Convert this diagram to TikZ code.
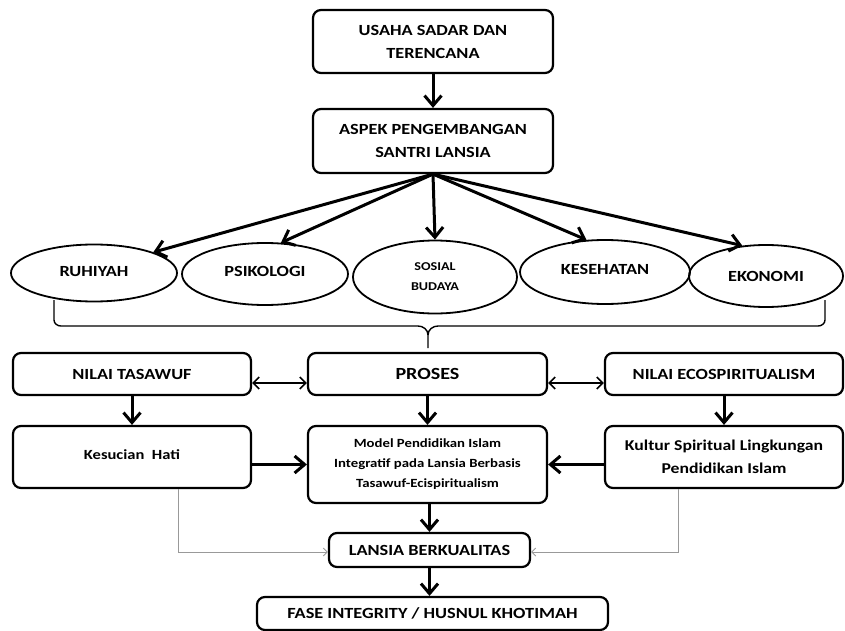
\documentclass[tikz,border=0pt]{standalone}
\usepackage{fontspec}
\setmainfont{Carlito}[FakeStretch=1.18]
\usetikzlibrary{arrows.meta,shapes.geometric}
\begin{document}
\begin{tikzpicture}[x=1pt,y=-1pt,
  hfont/.style={font=\bfseries\fontsize{15.5}{23}\selectfont},
  box/.style={draw,line width=2.2pt,rounded corners=8pt,align=center,inner sep=0pt,hfont},
  ell/.style={draw,ellipse,line width=1.8pt,inner sep=0pt,align=center,hfont},
  arr/.style={line width=3pt,-{Straight Barb[length=10pt,width=17pt,line width=3pt]}},
  darr/.style={line width=1.6pt,{Straight Barb[length=6pt,width=12pt,line width=1.6pt]}-{Straight Barb[length=6pt,width=12pt,line width=1.6pt]}},
  garr/.style={line width=0.9pt,draw=gray!80,-{Straight Barb[length=4pt,width=8pt,line width=0.9pt]}},
  brace/.style={line width=1.4pt}
]
\useasboundingbox (0,0) rectangle (845,631);

\node[box,minimum width=240pt,minimum height=63pt] (us) at (433,41.5) {USAHA SADAR DAN\\TERENCANA};
\node[box,minimum width=240pt,minimum height=64pt] (as) at (433,141) {ASPEK PENGEMBANGAN\\SANTRI LANSIA};

\node[ell,minimum width=166pt,minimum height=57pt] (ru) at (94,273) {\raisebox{4pt}{RUHIYAH}};
\node[ell,minimum width=166pt,minimum height=62pt] (ps) at (265,274) {\raisebox{6pt}{PSIKOLOGI}};
\node[ell,minimum width=164pt,minimum height=73pt,font=\bfseries\fontsize{12}{20}\selectfont] (ss) at (435,277) {SOSIAL\\BUDAYA};
\node[ell,minimum width=170pt,minimum height=64pt] (ke) at (605,272) {\raisebox{5pt}{KESEHATAN}};
\node[ell,minimum width=154pt,minimum height=62pt] (ek) at (766,276) {EKONOMI};

\draw[arr] (as.south) -- (ru.north east);
\draw[arr] (as.south) -- (ps.63);
\draw[arr] (as.south) -- (ss.north);
\draw[arr] (as.south) -- (ke.120);
\draw[arr] (as.south) -- (ek.128);
\draw[arr] (us.south) -- (as.north);

% brace
\draw[brace] (54,300) -- (54,320) to[out=-90,in=180] (61,326) -- (418,326) to[out=0,in=90] (428,335) -- (428,348);
\draw[brace] (428,335) to[out=90,in=180] (438,326) -- (818,326) to[out=0,in=-90] (825,320) -- (825,300);

\node[box,minimum width=238pt,minimum height=42pt] (nt) at (132,374) {NILAI TASAWUF};
\node[box,minimum width=239pt,minimum height=42pt,font=\bfseries\fontsize{17}{20}\selectfont] (pr) at (427.5,374) {PROSES};
\node[box,minimum width=238pt,minimum height=42pt] (ne) at (724,374) {NILAI ECOSPIRITUALISM};

\node[box,minimum width=238pt,minimum height=62pt,font=\bfseries\fontsize{14}{22}\selectfont] (ks) at (132,457) {\raisebox{5pt}{Kesucian\ \ Hati}};
\node[box,minimum width=239pt,minimum height=77pt,font=\bfseries\fontsize{12.5}{20}\selectfont] (md) at (427.5,464.5) {Model Pendidikan Islam\\Integratif pada\ Lansia Berbasis\\Tasawuf-Ecispiritualism};
\node[box,minimum width=238pt,minimum height=62pt,font=\bfseries\fontsize{15}{23}\selectfont] (ku) at (724,457) {Kultur Spiritual Lingkungan\\Pendidikan Islam};

\node[box,minimum width=201pt,minimum height=34pt] (lb) at (429.5,550) {LANSIA BERKUALITAS};
\node[box,minimum width=351pt,minimum height=33pt] (fs) at (432.5,613.5) {FASE INTEGRITY / HUSNUL KHOTIMAH};

\draw[darr] ([yshift=-9pt]nt.east) -- ([yshift=-9pt]pr.west);
\draw[darr] ([yshift=-9pt]pr.east) -- ([yshift=-9pt]ne.west);

\draw[arr] (nt.south) -- (ks.north);
\draw[arr] (pr.south) -- (md.north);
\draw[arr] (ne.south) -- (ku.north);

\draw[arr] (md.west -| ks.east) -- (md.west);
\draw[arr] (md.east -| ku.west) -- (md.east);

\draw[arr] (md.south -| lb.north) -- (lb.north);
\draw[arr] (lb.south) -- (lb.south |- fs.north);

\draw[garr] ([xshift=46pt]ks.south) |- ([yshift=-2pt]lb.west);
\draw[garr] ([xshift=-46pt]ku.south) |- ([yshift=-2pt]lb.east);
\end{tikzpicture}
\end{document}
